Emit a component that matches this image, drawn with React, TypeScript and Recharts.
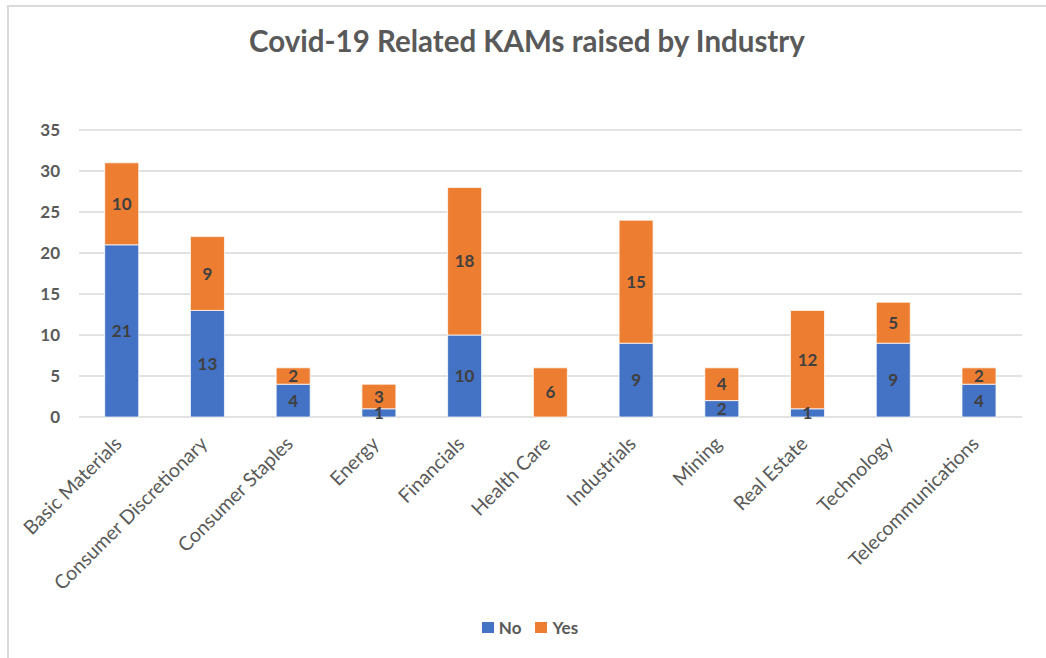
import React from 'react';
import { BarChart, Bar, XAxis, YAxis, CartesianGrid, Legend, LabelList } from 'recharts';

const industries = [
  'Basic Materials',
  'Consumer Discretionary',
  'Consumer Staples',
  'Energy',
  'Financials',
  'Health Care',
  'Industrials',
  'Mining',
  'Real Estate',
  'Technology',
  'Telecommunications',
];
const noValues = [21, 13, 4, 1, 10, 0, 9, 2, 1, 9, 4];
const yesValues = [10, 9, 2, 3, 18, 6, 15, 4, 12, 5, 2];
const yTicks = [0, 5, 10, 15, 20, 25, 30, 35];

const data = industries.map((name, i) => ({ name, No: noValues[i], Yes: yesValues[i] }));

const FONT = 'Lato, "Open Sans", sans-serif';
const BLUE = '#4472C4';
const ORANGE = '#ED7D31';

const XTick = (props: any) => {
  const { x, y, payload } = props;
  return (
    <g transform={`translate(${x + 1},${y + 28})`}>
      <text
        x={0}
        y={0}
        textAnchor="end"
        transform="rotate(-45)"
        fill="#595959"
        fontSize={19.5}
        fontFamily={FONT}
      >
        {payload.value}
      </text>
    </g>
  );
};

const renderLegend = (props: any) => {
  const { payload } = props;
  return (
    <div
      style={{
        width: 1046,
        height: 30,
        display: 'flex',
        justifyContent: 'center',
        alignItems: 'center',
        paddingLeft: 14,
        boxSizing: 'border-box',
        fontFamily: FONT,
      }}
    >
      {(payload || []).map((entry: any, i: number) => (
        <div key={i} style={{ display: 'flex', alignItems: 'center', marginRight: i === 0 ? 14 : 0 }}>
          <span style={{ display: 'inline-block', width: 12, height: 11, background: entry.color, marginRight: 5 }} />
          <span style={{ color: '#595959', fontSize: 17, fontWeight: 700 }}>{entry.value}</span>
        </div>
      ))}
    </div>
  );
};

const labelFmt = (v: any) => (v ? v : '');

export default function App() {
  return (
    <div style={{ position: 'absolute', left: 0, top: 0, width: 1046, height: 658, overflow: 'hidden', background: '#fff' }}>
      <div
        style={{
          position: 'absolute',
          left: 7,
          top: 5,
          width: 1100,
          height: 700,
          border: '2px solid #dadada',
          boxSizing: 'border-box',
        }}
      />
      <div
        style={{
          position: 'absolute',
          left: 0,
          top: 23,
          width: 1054,
          textAlign: 'center',
          fontFamily: FONT,
          fontWeight: 700,
          fontSize: 29.5,
          color: '#595959',
        }}
      >
        Covid-19 Related KAMs raised by Industry
      </div>
      <div style={{ position: 'absolute', left: 0, top: 0 }}>
        <BarChart
          width={1046}
          height={658}
          data={data}
          margin={{ top: 130, right: 24, bottom: 16, left: 0 }}
          barCategoryGap="30%"
        >
          <CartesianGrid vertical={false} stroke="#d9d9d9" strokeWidth={1.5} />
          <XAxis
            dataKey="name"
            interval={0}
            axisLine={false}
            tickLine={false}
            tickSize={0}
            tickMargin={0}
            height={195}
            tick={<XTick />}
          />
          <YAxis
            width={79}
            domain={[0, 35]}
            ticks={yTicks}
            axisLine={false}
            tickLine={false}
            tickSize={0}
            tickMargin={19}
            tick={{ fill: '#595959', fontSize: 17, fontWeight: 700, fontFamily: FONT }}
          />
          <Legend verticalAlign="bottom" height={30} wrapperStyle={{ left: 0, width: 1046, height: 30 }} content={renderLegend} />
          <Bar dataKey="No" stackId="a" fill={BLUE} stroke="#ffffff" strokeWidth={0.75} isAnimationActive={false}>
            <LabelList
              dataKey="No"
              position="center"
              formatter={labelFmt}
              fill="#404040"
              fontSize={17}
              fontWeight={700}
              fontFamily={FONT}
            />
          </Bar>
          <Bar dataKey="Yes" stackId="a" fill={ORANGE} stroke="#ffffff" strokeWidth={0.75} isAnimationActive={false}>
            <LabelList
              dataKey="Yes"
              position="center"
              formatter={labelFmt}
              fill="#404040"
              fontSize={17}
              fontWeight={700}
              fontFamily={FONT}
            />
          </Bar>
        </BarChart>
      </div>
    </div>
  );
}
